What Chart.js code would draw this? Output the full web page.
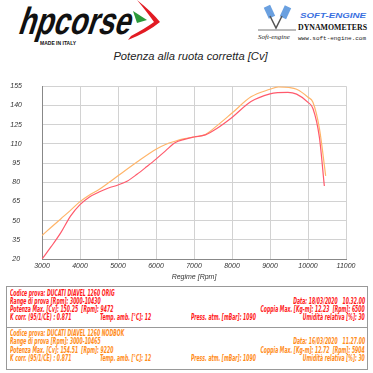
<!DOCTYPE html>
<html lang="it">

<head>
  <meta charset="UTF-8">
  <title>Potenza alla ruota corretta</title>
  <script src="https://cdn.jsdelivr.net/npm/chart.js"></script>
  <style>
    body { margin: 0; width: 373px; height: 373px; background: #fff; position: relative; overflow: hidden; font-family: "Liberation Sans", Arial, sans-serif; }
    #logos { position: absolute; left: 0; top: 0; }
    #title { position: absolute; left: 0; width: 381px; top: 50px; text-align: center; font-style: italic; font-size: 11.2px; color: #222; }
    #wrap { position: absolute; left: 0; top: 62px; width: 373px; height: 222px; }
    #info { position: absolute; left: 6px; top: 286px; width: 360px; height: 83px; border: 1px solid #999; border-bottom: none; }
    #info .sep { position: absolute; left: 0; right: 0; height: 0; border-top: 1px solid #999; }
    #info .t { position: absolute; font-family: "DejaVu Sans Condensed", "DejaVu Sans", sans-serif; font-weight: bold; font-style: italic; font-size: 8.8px; line-height: 8px; white-space: nowrap; transform: scaleX(0.58); transform-origin: left top; }
    #info .t.r { transform-origin: right top; }
    .red { color: #ff1a1a; }
    .orn { color: #ff8c1a; }
  </style>
</head>

<body>
  <svg id="logos" width="373" height="48">
    <g>
      <text x="18" y="34" font-family="Liberation Sans" font-weight="bold" font-size="38" textLength="112" lengthAdjust="spacingAndGlyphs" transform="skewX(-18) translate(10,0)" fill="#111">hpcorse</text>
      <text x="40" y="45" font-family="Liberation Sans" font-weight="bold" font-size="5" fill="#111">MADE IN ITALY</text>
      <path d="M137,0 Q152,12 160,22 Q148,32 128,40 L131,36 Q146,28 154,22 Q147,12 137,0 Z" fill="#e21b23" />
      <path d="M133,11 L147,20 L137,23 Z" fill="#2a9a3a" />
    </g>
    <g>
      <rect x="266" y="6" width="7" height="12" fill="#6aa0e0" transform="rotate(-25 269 12)" />
      <rect x="282" y="6" width="7" height="12" fill="#6aa0e0" transform="rotate(25 285 12)" />
      <path d="M270,16 L276,28 L282,16" stroke="#555" stroke-width="1.5" fill="none" />
      <path d="M258,30 L296,30" stroke="#777" stroke-width="1" />
      <text x="258" y="39" font-family="Liberation Serif" font-style="italic" font-size="7" fill="#222">Soft-engine</text>
      <text x="300" y="18" font-family="Liberation Sans" font-weight="bold" font-style="italic" font-size="8" textLength="66" lengthAdjust="spacingAndGlyphs" fill="#3a6fe0">SOFT-ENGINE</text>
      <text x="298" y="30" font-family="Liberation Serif" font-weight="bold" font-size="8" textLength="69" lengthAdjust="spacingAndGlyphs" fill="#111">DYNAMOMETERS</text>
      <text x="298" y="40" font-family="Liberation Mono" font-size="5.5" textLength="68" lengthAdjust="spacingAndGlyphs" fill="#222">www.soft-engine.com</text>
    </g>
  </svg>

  <div id="title">Potenza alla ruota corretta [Cv]</div>

  <div id="wrap"><canvas id="chartPower"></canvas></div>

  <div id="info">
    <div class="t red" style="left:3px;top:2px">Codice prova: DUCATI DIAVEL 1260 ORIG</div>
    <div class="t red" style="left:3px;top:10px">Range di prova [Rpm]: 3000-10430</div>
    <div class="t red r" style="right:2px;top:10px">Data: 18/03/2020&nbsp;&nbsp;&nbsp;10.32.00</div>
    <div class="t red" style="left:3px;top:18px">Potenza Max. [Cv]: 150.25&nbsp;&nbsp;[Rpm]: 9472</div>
    <div class="t red r" style="right:2px;top:18px">Coppia Max. [Kg-m]: 12.23&nbsp;&nbsp;[Rpm]: 6500</div>
    <div class="t red" style="left:3px;top:26px">K corr. (95/1/CE) : 0.871</div>
    <div class="t red" style="left:93px;top:26px">Temp. amb. [°C]: 12</div>
    <div class="t red" style="left:184px;top:26px">Press. atm. [mBar]: 1090</div>
    <div class="t red r" style="right:2px;top:26px">Umidità relativa [%]: 30</div>
    <div class="sep" style="top:40px"></div>
    <div class="t orn" style="left:3px;top:42px">Codice prova: DUCATI DIAVEL 1260 NODBOK</div>
    <div class="t orn" style="left:3px;top:50px">Range di prova [Rpm]: 3000-10465</div>
    <div class="t orn r" style="right:2px;top:50px">Data: 16/03/2020&nbsp;&nbsp;&nbsp;11.27.00</div>
    <div class="t orn" style="left:3px;top:59px">Potenza Max. [Cv]: 154.51&nbsp;&nbsp;[Rpm]: 9220</div>
    <div class="t orn r" style="right:2px;top:59px">Coppia Max. [Kg-m]: 12.72&nbsp;&nbsp;[Rpm]: 5904</div>
    <div class="t orn" style="left:3px;top:67px">K corr. (95/1/CE) : 0.871</div>
    <div class="t orn" style="left:93px;top:67px">Temp. amb. [°C]: 12</div>
    <div class="t orn" style="left:184px;top:67px">Press. atm. [mBar]: 1090</div>
    <div class="t orn r" style="right:2px;top:67px">Umidità relativa [%]: 30</div>
    <div class="sep" style="top:82px"></div>
  </div>

  <script>
    // curve ORIG (rossa)
    const rpmOrig = [3000, 3250, 3500, 3750, 4000, 4250, 4500, 4750, 5000, 5250, 5500, 5750, 6000, 6250, 6500, 6750, 7000, 7300, 7600, 8000, 8500, 9000, 9200, 9472, 9700, 10000, 10130, 10300, 10430];
    const cvOrig = [20, 30, 40.8, 53.5, 62.5, 68.5, 72.3, 75.5, 77.8, 81, 86.2, 92, 98, 104.5, 110.8, 113.5, 115.3, 117, 122, 130.6, 143, 149, 150, 150.25, 148.8, 142.4, 137.6, 115, 77];

    // curve NODBOK (arancione)
    const rpmNodbok = [3000, 3250, 3500, 3750, 4000, 4250, 4500, 4750, 5000, 5500, 6000, 6250, 6500, 6750, 7000, 7300, 7600, 8000, 8500, 9000, 9220, 9500, 9700, 10000, 10130, 10300, 10465];
    const cvNodbok = [38.4, 45, 51.5, 58, 64.8, 70, 74.3, 79.5, 85, 95.8, 105.8, 109.5, 112, 114, 115.3, 117.3, 124, 134, 146.7, 152.6, 154.5, 154, 152.6, 146.4, 142.4, 122, 85];

    const toPoints = (xs, ys) => xs.map((x, i) => ({ x: x, y: ys[i] }));
    const tickFont = { family: 'Liberation Sans', style: 'italic', size: 7 };

    new Chart(document.getElementById('chartPower'), {
      type: 'line',
      data: {
        datasets: [{
          label: 'DUCATI DIAVEL 1260 ORIG',
          data: toPoints(rpmOrig, cvOrig),
          borderColor: '#ff5a6c',
          borderWidth: 1.2,
          pointRadius: 0,
          cubicInterpolationMode: 'monotone'
        }, {
          label: 'DUCATI DIAVEL 1260 NODBOK',
          data: toPoints(rpmNodbok, cvNodbok),
          borderColor: '#ffb56a',
          borderWidth: 1.2,
          pointRadius: 0,
          cubicInterpolationMode: 'monotone'
        }]
      },
      options: {
        responsive: true,
        maintainAspectRatio: false,
        animation: false,
        layout: { padding: { top: 8.7, right: 27, left: 0, bottom: 0 } },
        plugins: { legend: { display: false }, tooltip: { enabled: false } },
        scales: {
          x: {
            type: 'linear',
            min: 3000,
            max: 11000,
            ticks: { stepSize: 1000, font: tickFont, color: '#333', padding: 3, maxRotation: 0, callback: v => String(v) },
            grid: { color: '#d2d2d2', lineWidth: 1, drawTicks: false },
            border: { color: '#888', width: 1 },
            title: { display: true, text: 'Regime [Rpm]', font: tickFont, color: '#333', padding: { top: 0, bottom: 3 } },
            afterFit: s => { s.height = 25; }
          },
          y: {
            min: 20,
            max: 155,
            ticks: { stepSize: 15, font: tickFont, color: '#333', padding: 20, crossAlign: 'center' },
            grid: { color: '#d2d2d2', lineWidth: 1, drawTicks: false },
            border: { color: '#888', width: 1 },
            afterFit: s => { s.width = 42; }
          }
        }
      }
    });
  </script>
</body>

</html>
